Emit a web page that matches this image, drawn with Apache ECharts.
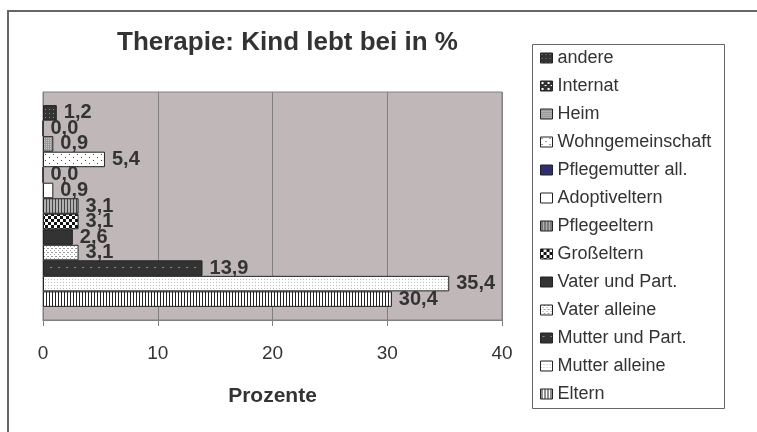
<!DOCTYPE html>
<html>
<head>
<meta charset="utf-8">
<script src="https://cdn.jsdelivr.net/npm/echarts@6/dist/echarts.min.js"></script>
<style>
  html, body { margin: 0; padding: 0; background: #fff; }
  #chart { width: 757px; height: 432px; }
</style>
</head>
<body>
<div id="chart"></div>
<script>
// series order as in the spreadsheet: first one is drawn at the bottom
const seriesNames = [
  'Eltern', 'Mutter alleine', 'Mutter und Part.', 'Vater alleine',
  'Vater und Part.', 'Großeltern', 'Pflegeeltern', 'Adoptiveltern',
  'Pflegemutter all.', 'Wohngemeinschaft', 'Heim', 'Internat', 'andere'
];
const percentValues = [30.4, 35.4, 13.9, 3.1, 2.6, 3.1, 3.1, 0.9, 0.0, 5.4, 0.9, 0.0, 1.2];
const xTicks = [0, 10, 20, 30, 40];

const FONT = 'Liberation Sans';

// small canvas tiles to imitate the old excel fill patterns
const tile = (w, h, bg, fg, rects) => {
  const c = document.createElement('canvas');
  c.width = w;
  c.height = h;
  const ctx = c.getContext('2d');
  ctx.fillStyle = bg;
  ctx.fillRect(0, 0, w, h);
  ctx.fillStyle = fg;
  rects.forEach(r => ctx.fillRect(r[0], r[1], r[2], r[3]));
  return { image: c, repeat: 'repeat' };
};

const fills = {
  'Eltern': tile(3, 3, '#ffffff', '#222222', [[1, 0, 1, 3]]),
  'Mutter alleine': tile(3, 3, '#ffffff', '#bbbbbb', [[0, 0, 1, 1]]),
  'Mutter und Part.': tile(8, 8, '#333333', '#8a8a8a', [[2, 3, 2, 1]]),
  'Vater alleine': tile(4, 4, '#ffffff', '#999999', [[0, 0, 1, 1], [2, 2, 1, 1], [3, 0, 1, 1]]),
  'Vater und Part.': '#333333',
  'Großeltern': tile(6, 6, '#ffffff', '#111111', [[0, 0, 3, 3], [3, 3, 3, 3]]),
  'Pflegeeltern': tile(3, 3, '#b0b0b0', '#444444', [[1, 0, 1, 3]]),
  'Adoptiveltern': '#ffffff',
  'Pflegemutter all.': '#2e2e70',
  'Wohngemeinschaft': tile(8, 6, '#ffffff', '#444444', [[1, 1, 1, 1], [5, 4, 1, 1]]),
  'Heim': tile(2, 2, '#9a9a9a', '#c8c8c8', [[0, 0, 1, 1]]),
  'Internat': tile(6, 6, '#333333', '#ffffff', [[1, 1, 2, 2], [4, 4, 2, 1]]),
  'andere': tile(4, 4, '#333333', '#8a8a8a', [[1, 1, 1, 1]])
};

const fmt = v => v.toFixed(1).replace('.', ',');

// echarts stacks the bars of one category from the top down, so feed them reversed
const order = seriesNames.map((_, i) => i).reverse();

const chart = echarts.init(document.getElementById('chart'), null, { renderer: 'canvas' });

const option = {
  animation: false,
  backgroundColor: '#ffffff',
  title: {
    text: 'Therapie: Kind lebt bei in %',
    left: 112,
    top: 25,
    textStyle: { fontFamily: FONT, fontSize: 26, fontWeight: 'bold', color: '#333333' }
  },
  grid: {
    left: 43,
    right: 255,
    top: 92,
    bottom: 112,
    show: true,
    backgroundColor: '#c0b8b8',
    borderColor: '#808080',
    borderWidth: 1
  },
  legend: {
    orient: 'vertical',
    left: 540,
    top: 49,
    padding: 0,
    icon: 'rect',
    itemWidth: 12,
    itemHeight: 10,
    itemGap: 10,
    data: seriesNames.slice().reverse(),
    itemStyle: { borderColor: '#222222', borderWidth: 1 },
    textStyle: { fontFamily: FONT, fontSize: 18, color: '#333333', lineHeight: 18 }
  },
  xAxis: {
    type: 'value',
    min: xTicks[0],
    max: xTicks[xTicks.length - 1],
    interval: 10,
    name: 'Prozente',
    nameLocation: 'middle',
    nameGap: 66,
    nameTextStyle: { fontFamily: FONT, fontSize: 21, fontWeight: 'bold', color: '#333333' },
    axisLine: { show: true, lineStyle: { color: '#808080' } },
    axisTick: { show: true, length: 6, lineStyle: { color: '#808080' } },
    axisLabel: { margin: 24, fontFamily: FONT, fontSize: 19, color: '#333333' },
    splitLine: { show: true, lineStyle: { color: '#808080', width: 1 } }
  },
  yAxis: {
    type: 'category',
    data: [''],
    axisLine: { show: false },
    axisTick: { show: false },
    axisLabel: { show: false }
  },
  series: order.map(i => ({
    name: seriesNames[i],
    type: 'bar',
    data: [percentValues[i]],
    barGap: '0%',
    barCategoryGap: '11.5%',
    itemStyle: { color: fills[seriesNames[i]], borderColor: '#222222', borderWidth: 1 },
    label: {
      show: true,
      position: 'right',
      distance: 7,
      formatter: p => fmt(p.value),
      fontFamily: FONT,
      fontSize: 20,
      fontWeight: 'bold',
      color: '#333333'
    }
  })),
  graphic: [
    {
      type: 'rect',
      shape: { x: 8, y: 11, width: 800, height: 500 },
      style: { fill: null, stroke: '#666666', lineWidth: 2 },
      silent: true
    },
    {
      type: 'rect',
      shape: { x: 532.5, y: 44.5, width: 192, height: 364 },
      style: { fill: null, stroke: '#666666', lineWidth: 1 },
      silent: true
    }
  ]
};

chart.setOption(option);
window.addEventListener('resize', () => chart.resize());
</script>
</body>
</html>
